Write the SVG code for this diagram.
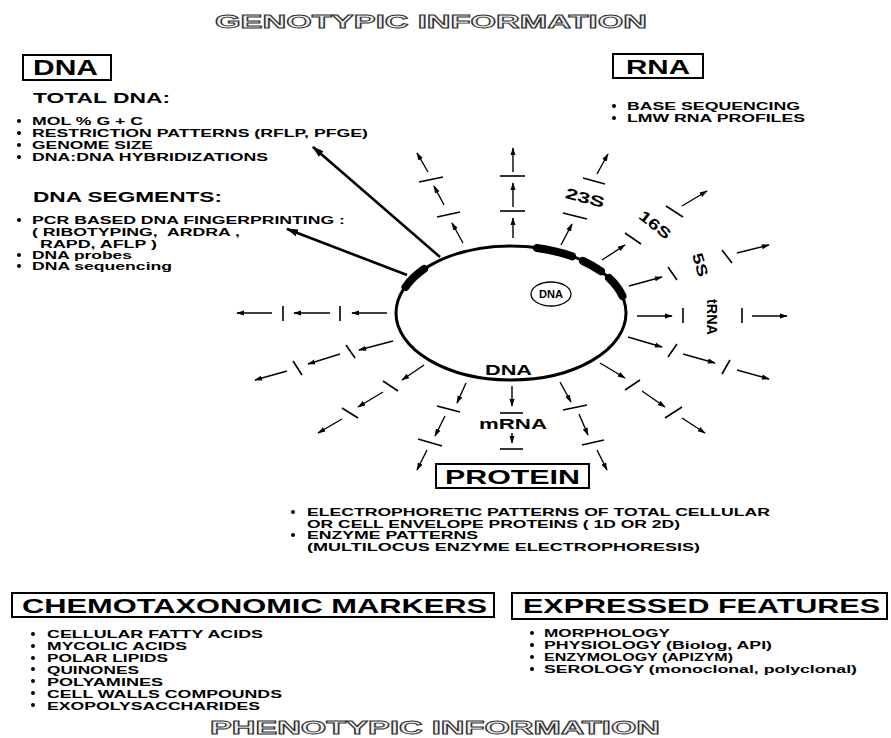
<svg xmlns="http://www.w3.org/2000/svg" width="891" height="738" viewBox="0 0 891 738">
<style>
text{font-family:"Liberation Sans",Arial,sans-serif;font-weight:bold;fill:#000}
.t12{font-size:10.5px}
.t15{font-size:15px}
.hd{font-size:21px}
.title{font-size:18px;fill:#eeeeee;stroke:#333;stroke-width:0.9}
.box{fill:none;stroke:#000;stroke-width:2}
.ar{stroke:#000;stroke-width:1.4;fill:none;marker-end:url(#ah)}
.tk{stroke:#000;stroke-width:1.6}
.gene{fill:none;stroke:#000;stroke-width:8;stroke-linecap:round}
.lg{stroke:#000;stroke-width:2.6;fill:none;marker-end:url(#ahL)}
</style>
<defs>
<marker id="ah" viewBox="0 0 10 10" refX="9" refY="5" markerWidth="8" markerHeight="8" markerUnits="userSpaceOnUse" orient="auto"><path d="M0,1.8 L10,5 L0,8.2 z" fill="#000"/></marker>
<marker id="ahL" viewBox="0 0 10 10" refX="9" refY="5" markerWidth="12" markerHeight="12" markerUnits="userSpaceOnUse" orient="auto"><path d="M0,2 L10,5 L0,8 z" fill="#000"/></marker>
</defs>
<rect width="891" height="738" fill="#fff"/>

<g id="title-genotypic"><text class="title" x="215" y="28" textLength="432" lengthAdjust="spacingAndGlyphs">GENOTYPIC INFORMATION</text></g>

<g id="dna">
<rect class="box" x="23" y="55" width="88" height="25"/>
<text x="33" y="75" font-size="22" textLength="65" lengthAdjust="spacingAndGlyphs">DNA</text>
<text class="t15" x="33" y="103" textLength="137" lengthAdjust="spacingAndGlyphs">TOTAL DNA:</text>
<g fill="#000"><circle cx="19" cy="121" r="2"/><circle cx="19" cy="133" r="2"/><circle cx="19" cy="145" r="2"/><circle cx="19" cy="157" r="2"/><circle cx="19" cy="220" r="2"/><circle cx="19" cy="255" r="2"/><circle cx="19" cy="266" r="2"/></g>
<text class="t12" x="32" y="125" textLength="111" lengthAdjust="spacingAndGlyphs">MOL % G + C</text>
<text class="t12" x="32" y="137" textLength="336" lengthAdjust="spacingAndGlyphs">RESTRICTION PATTERNS (RFLP, PFGE)</text>
<text class="t12" x="32" y="149" textLength="121" lengthAdjust="spacingAndGlyphs">GENOME SIZE</text>
<text class="t12" x="32" y="161" textLength="236" lengthAdjust="spacingAndGlyphs">DNA:DNA HYBRIDIZATIONS</text>
<text class="t15" x="33" y="202" textLength="189" lengthAdjust="spacingAndGlyphs">DNA SEGMENTS:</text>
<text class="t12" x="32" y="224" textLength="313" lengthAdjust="spacingAndGlyphs">PCR BASED DNA FINGERPRINTING :</text>
<text class="t12" x="32" y="236" textLength="208" lengthAdjust="spacingAndGlyphs" xml:space="preserve">( RIBOTYPING,  ARDRA ,</text>
<text class="t12" x="40" y="248" textLength="117" lengthAdjust="spacingAndGlyphs">RAPD, AFLP )</text>
<text class="t12" x="32" y="259" textLength="100" lengthAdjust="spacingAndGlyphs">DNA probes</text>
<text class="t12" x="32" y="270" textLength="140" lengthAdjust="spacingAndGlyphs">DNA sequencing</text>
</g>

<g id="rna">
<rect class="box" x="613" y="54" width="90" height="24"/>
<text x="626" y="74" font-size="20" textLength="64" lengthAdjust="spacingAndGlyphs">RNA</text>
<circle cx="614" cy="106" r="2"/><circle cx="614" cy="118" r="2"/>
<text class="t12" x="627" y="110" textLength="173" lengthAdjust="spacingAndGlyphs">BASE SEQUENCING</text>
<text class="t12" x="627" y="122" textLength="178" lengthAdjust="spacingAndGlyphs">LMW RNA PROFILES</text>
</g>

<g id="chromosome">
<ellipse cx="511" cy="313" rx="115" ry="67" fill="none" stroke="#000" stroke-width="3"/>
<path class="gene" d="M537,248 A115,67 0 0 1 572,256.3"/>
<path class="gene" d="M583,261 A115,67 0 0 1 601,271.3"/>
<path class="gene" d="M609,278 A115,67 0 0 1 622.5,296"/>
<path class="gene" d="M405.5,287 A115,67 0 0 1 424,269"/>
<ellipse cx="551" cy="294" rx="20" ry="12" fill="none" stroke="#000" stroke-width="1.3"/>
<text x="539" y="298" font-size="10" textLength="24" lengthAdjust="spacingAndGlyphs">DNA</text>
<text class="t15" x="485" y="375" textLength="47" lengthAdjust="spacingAndGlyphs">DNA</text>
</g>

<g id="labels">
<text class="t15" transform="translate(585,198) rotate(15)" x="-20" y="5" textLength="40" lengthAdjust="spacingAndGlyphs">23S</text>
<text class="t15" transform="translate(655,225) rotate(38)" x="-18" y="5" textLength="36" lengthAdjust="spacingAndGlyphs">16S</text>
<text class="t15" transform="translate(700,265) rotate(74)" x="-12" y="5" textLength="24" lengthAdjust="spacingAndGlyphs">5S</text>
<text class="t15" transform="translate(712,317) rotate(90)" x="-18" y="5" textLength="36" lengthAdjust="spacingAndGlyphs">tRNA</text>
<text class="t15" x="479" y="429" textLength="68" lengthAdjust="spacingAndGlyphs">mRNA</text>
</g>

<g id="connectors">
<line class="lg" x1="440" y1="257" x2="313" y2="147"/>
<line class="lg" x1="407" y1="275" x2="287" y2="229"/>
<line class="ar" x1="513" y1="238" x2="513" y2="218"/><line class="ar" x1="513" y1="207" x2="513" y2="183"/><line class="ar" x1="513" y1="172" x2="513" y2="148"/>
<line class="tk" x1="500" y1="211" x2="525" y2="211"/><line class="tk" x1="500" y1="176" x2="525" y2="176"/>
<line class="ar" x1="463" y1="243" x2="452" y2="223"/><line class="ar" x1="444" y1="205" x2="434" y2="186"/><line class="ar" x1="428" y1="172" x2="417" y2="153"/>
<line class="tk" x1="437" y1="217" x2="460" y2="212"/><line class="tk" x1="419" y1="182" x2="443" y2="177"/>
<line class="ar" x1="561" y1="245" x2="572" y2="224"/><line class="ar" x1="597" y1="174" x2="608" y2="154"/>
<line class="tk" x1="563" y1="213" x2="587" y2="219"/><line class="tk" x1="583" y1="178" x2="605" y2="184"/>
<line class="ar" x1="602" y1="260" x2="625" y2="245"/><line class="ar" x1="682" y1="206" x2="707" y2="191"/>
<line class="tk" x1="625" y1="233" x2="641" y2="244"/><line class="tk" x1="666" y1="206" x2="683" y2="217"/>
<line class="ar" x1="629" y1="286" x2="662" y2="277"/><line class="ar" x1="737" y1="253" x2="769" y2="245"/>
<line class="tk" x1="668" y1="267" x2="677" y2="280"/><line class="tk" x1="722" y1="250" x2="732" y2="263"/>
<line class="ar" x1="637" y1="316" x2="672" y2="316"/><line class="ar" x1="752" y1="316" x2="787" y2="316"/>
<line class="tk" x1="683" y1="308" x2="683" y2="323"/><line class="tk" x1="742" y1="308" x2="742" y2="323"/>
<line class="ar" x1="628" y1="337" x2="662" y2="347"/><line class="ar" x1="683" y1="354" x2="715" y2="363"/><line class="ar" x1="737" y1="370" x2="769" y2="379"/>
<line class="tk" x1="668" y1="357" x2="677" y2="344"/><line class="tk" x1="722" y1="374" x2="730" y2="360"/>
<line class="ar" x1="600" y1="363" x2="625" y2="378"/><line class="ar" x1="642" y1="391" x2="665" y2="407"/><line class="ar" x1="682" y1="418" x2="705" y2="433"/>
<line class="tk" x1="625" y1="390" x2="640" y2="380"/><line class="tk" x1="665" y1="418" x2="682" y2="407"/>
<line class="ar" x1="560" y1="382" x2="571" y2="402"/><line class="ar" x1="579" y1="414" x2="588" y2="435"/><line class="ar" x1="597" y1="450" x2="607" y2="470"/>
<line class="tk" x1="563" y1="410" x2="587" y2="405"/><line class="tk" x1="582" y1="445" x2="604" y2="440"/>
<line class="ar" x1="512" y1="386" x2="512" y2="406"/><line class="ar" x1="512" y1="433" x2="512" y2="443"/>
<line class="tk" x1="500" y1="413" x2="523" y2="413"/><line class="tk" x1="500" y1="449" x2="523" y2="449"/>
<line class="ar" x1="466" y1="383" x2="457" y2="403"/><line class="ar" x1="445" y1="416" x2="435" y2="436"/><line class="ar" x1="427" y1="450" x2="417" y2="470"/>
<line class="tk" x1="437" y1="406" x2="460" y2="412"/><line class="tk" x1="418" y1="439" x2="442" y2="446"/>
<line class="ar" x1="424" y1="365" x2="402" y2="380"/><line class="ar" x1="383" y1="392" x2="358" y2="407"/><line class="ar" x1="342" y1="419" x2="318" y2="433"/>
<line class="tk" x1="383" y1="381" x2="398" y2="391"/><line class="tk" x1="342" y1="408" x2="358" y2="418"/>
<line class="ar" x1="393" y1="341" x2="359" y2="350"/><line class="ar" x1="340" y1="354" x2="308" y2="364"/><line class="ar" x1="287" y1="371" x2="255" y2="380"/>
<line class="tk" x1="346" y1="345" x2="355" y2="358"/><line class="tk" x1="293" y1="361" x2="302" y2="375"/>
<line class="ar" x1="387" y1="313" x2="352" y2="313"/><line class="ar" x1="330" y1="313" x2="294" y2="313"/><line class="ar" x1="272" y1="313" x2="237" y2="313"/>
<line class="tk" x1="340" y1="306" x2="340" y2="321"/><line class="tk" x1="283" y1="306" x2="283" y2="321"/>
</g>

<g id="protein">
<rect class="box" x="436" y="464" width="153" height="24" stroke-width="2.6"/>
<text class="hd" x="445" y="484" textLength="135" lengthAdjust="spacingAndGlyphs">PROTEIN</text>
<circle cx="293" cy="512" r="2"/><circle cx="293" cy="535" r="2"/>
<text class="t12" x="307" y="516" textLength="463" lengthAdjust="spacingAndGlyphs">ELECTROPHORETIC PATTERNS OF TOTAL CELLULAR</text>
<text class="t12" x="307" y="527.5" textLength="373" lengthAdjust="spacingAndGlyphs">OR CELL ENVELOPE PROTEINS ( 1D OR 2D)</text>
<text class="t12" x="307" y="539" textLength="171" lengthAdjust="spacingAndGlyphs">ENZYME PATTERNS</text>
<text class="t12" x="307" y="550.5" textLength="393" lengthAdjust="spacingAndGlyphs">(MULTILOCUS ENZYME ELECTROPHORESIS)</text>
</g>

<g id="chemotaxonomic">
<rect class="box" x="12" y="593" width="482" height="24" stroke-width="1.6"/>
<text class="hd" x="22" y="613" font-size="20" textLength="465" lengthAdjust="spacingAndGlyphs">CHEMOTAXONOMIC MARKERS</text>
<g><circle cx="33" cy="634" r="2"/><circle cx="33" cy="646" r="2"/><circle cx="33" cy="658" r="2"/><circle cx="33" cy="669" r="2"/><circle cx="33" cy="681" r="2"/><circle cx="33" cy="693" r="2"/><circle cx="33" cy="705" r="2"/></g>
<text class="t12" x="47" y="638" textLength="216" lengthAdjust="spacingAndGlyphs">CELLULAR FATTY ACIDS</text>
<text class="t12" x="47" y="650" textLength="140" lengthAdjust="spacingAndGlyphs">MYCOLIC ACIDS</text>
<text class="t12" x="47" y="662" textLength="121" lengthAdjust="spacingAndGlyphs">POLAR LIPIDS</text>
<text class="t12" x="47" y="673.5" textLength="92" lengthAdjust="spacingAndGlyphs">QUINONES</text>
<text class="t12" x="47" y="685.5" textLength="116" lengthAdjust="spacingAndGlyphs">POLYAMINES</text>
<text class="t12" x="47" y="697.5" textLength="235" lengthAdjust="spacingAndGlyphs">CELL WALLS COMPOUNDS</text>
<text class="t12" x="47" y="709.5" textLength="213" lengthAdjust="spacingAndGlyphs">EXOPOLYSACCHARIDES</text>
</g>

<g id="expressed">
<rect class="box" x="512" y="593" width="375" height="26" stroke-width="1.6"/>
<text class="hd" x="523" y="613" font-size="20" textLength="357" lengthAdjust="spacingAndGlyphs">EXPRESSED FEATURES</text>
<g><circle cx="532" cy="633" r="2"/><circle cx="532" cy="645" r="2"/><circle cx="532" cy="657" r="2"/><circle cx="532" cy="669" r="2"/></g>
<text class="t12" x="544" y="637" textLength="126" lengthAdjust="spacingAndGlyphs">MORPHOLOGY</text>
<text class="t12" x="544" y="649" textLength="228" lengthAdjust="spacingAndGlyphs">PHYSIOLOGY (Biolog, API)</text>
<text class="t12" x="544" y="661" textLength="189" lengthAdjust="spacingAndGlyphs">ENZYMOLOGY (APIZYM)</text>
<text class="t12" x="544" y="673" textLength="313" lengthAdjust="spacingAndGlyphs">SEROLOGY (monoclonal, polyclonal)</text>
</g>

<g id="title-phenotypic"><text class="title" x="210" y="734" textLength="450" lengthAdjust="spacingAndGlyphs">PHENOTYPIC INFORMATION</text></g>
</svg>
